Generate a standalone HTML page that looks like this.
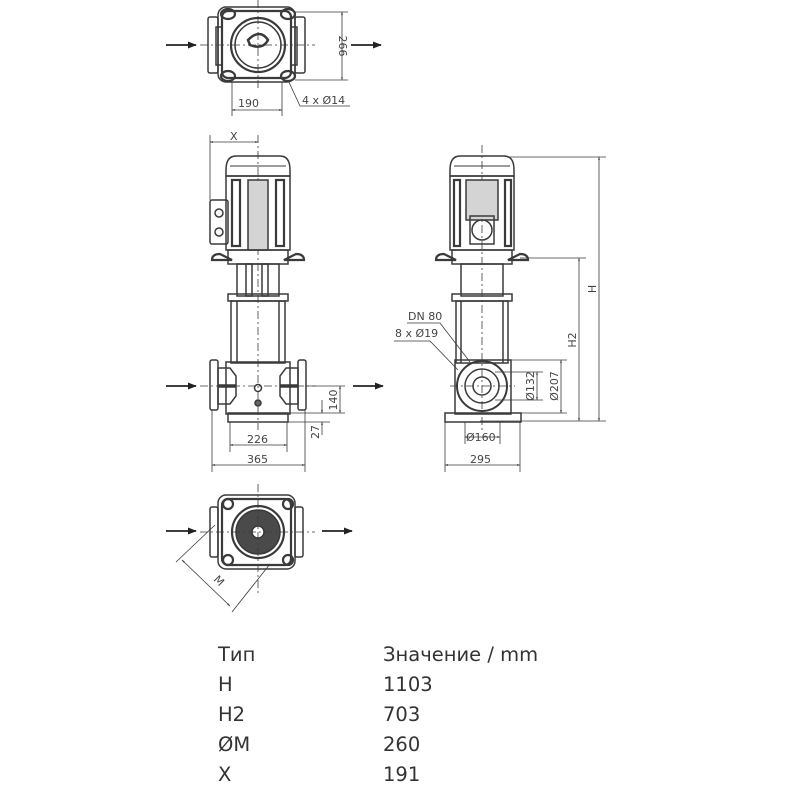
<!DOCTYPE html>
<html><head><meta charset="utf-8"><style>
html,body{margin:0;padding:0;background:#fff;width:800px;height:800px;overflow:hidden}
svg{position:absolute;left:0;top:0}
.t{font-family:"DejaVu Sans","Liberation Sans",sans-serif;fill:#333;font-size:19.5px}
.d{font-family:"DejaVu Sans","Liberation Sans",sans-serif;fill:#444;font-size:11px}
</style></head><body>
<svg width="800" height="800" viewBox="0 0 800 800" xmlns="http://www.w3.org/2000/svg">
<defs>
<marker id="a" viewBox="0 0 10 10" refX="9" refY="5" markerWidth="5" markerHeight="5" orient="auto-start-reverse"><path d="M0,1 L10,5 L0,9z" fill="#222"/></marker>
<marker id="s" viewBox="0 0 10 10" refX="9" refY="5" markerWidth="4" markerHeight="4" orient="auto-start-reverse"><path d="M0,2 L10,5 L0,8z" fill="#444"/></marker>
</defs>
<g fill="none" stroke="#3a3a3a" stroke-width="1.5">
<!-- TOP VIEW -->
<rect x="218" y="7" width="77" height="75" rx="8"/>
<rect x="222" y="11" width="69" height="67" rx="6" stroke-width="2.2"/>
<rect x="208" y="17" width="10" height="56" rx="2"/>
<rect x="295" y="17" width="10" height="56" rx="2"/>
<rect x="216" y="27" width="6" height="38"/><rect x="291" y="27" width="6" height="38"/>
<circle cx="258" cy="45" r="27" stroke-width="2.2"/>
<circle cx="258" cy="45" r="23"/>
<path d="M248,40 q12,-12 20,0 q-5,10 -18,5z" stroke-width="2.5"/>
<ellipse cx="228" cy="14" rx="7" ry="5" stroke-width="2.2"/><ellipse cx="288" cy="14" rx="7" ry="5" stroke-width="2.2"/>
<ellipse cx="228" cy="76" rx="7" ry="5" stroke-width="2.2"/><ellipse cx="288" cy="76" rx="7" ry="5" stroke-width="2.2"/>
<line x1="258" y1="0" x2="258" y2="90" stroke-dasharray="8 3 2 3" stroke-width="0.8"/>
<line x1="200" y1="45" x2="315" y2="45" stroke-dasharray="8 3 2 3" stroke-width="0.8"/>
<line x1="295" y1="12" x2="348" y2="12" stroke-width="0.8"/><line x1="295" y1="80" x2="348" y2="80" stroke-width="0.8"/>
<line x1="342" y1="12" x2="342" y2="80" stroke-width="0.8" marker-start="url(#s)" marker-end="url(#s)"/>
<line x1="232" y1="82" x2="232" y2="116" stroke-width="0.8"/><line x1="282" y1="82" x2="282" y2="116" stroke-width="0.8"/>
<line x1="232" y1="110" x2="282" y2="110" stroke-width="0.8" marker-start="url(#s)" marker-end="url(#s)"/>
<polyline points="288,80 300,106 350,106" stroke-width="0.8"/>

<!-- LEFT FRONT VIEW -->
<line x1="258" y1="135" x2="258" y2="430" stroke-dasharray="8 3 2 3" stroke-width="0.8"/>
<path d="M226,170 q0,-14 10,-14 h44 q10,0 10,14 v6 h-64z"/>
<path d="M230,166 h56" stroke-width="1"/>
<rect x="226" y="176" width="64" height="74"/>
<rect x="232" y="180" width="8" height="66" stroke-width="2.2"/><rect x="276" y="180" width="8" height="66" stroke-width="2.2"/>
<rect x="248" y="180" width="20" height="70" fill="#d4d4d4"/>
<rect x="210" y="200" width="18" height="44" rx="2"/>
<circle cx="219" cy="213" r="4"/><circle cx="219" cy="232" r="4"/>
<path d="M220,254 q-8,0 -8,6 h20z M296,254 q8,0 8,6 h-20z" stroke-width="2.2"/>
<rect x="228" y="250" width="60" height="14"/>
<rect x="237" y="264" width="42" height="32"/>
<rect x="246" y="264" width="6" height="32"/><rect x="262" y="264" width="6" height="32"/>
<rect x="228" y="294" width="60" height="7"/>
<rect x="231" y="301" width="54" height="62"/>
<line x1="237" y1="301" x2="237" y2="363"/><line x1="279" y1="301" x2="279" y2="363"/>
<rect x="226" y="362" width="64" height="52"/>
<rect x="210" y="360" width="8" height="50" rx="2"/><rect x="298" y="360" width="8" height="50" rx="2"/>
<path d="M218,368 h12 l6,8 v20 l-6,8 h-12z M298,368 h-12 l-6,8 v20 l6,8 h12z"/>
<line x1="218" y1="386" x2="236" y2="386" stroke-width="3.5"/><line x1="280" y1="386" x2="298" y2="386" stroke-width="3.5"/>
<circle cx="258" cy="388" r="3.5"/><circle cx="258" cy="403" r="3" fill="#666"/>
<rect x="228" y="413" width="60" height="9"/>
<line x1="200" y1="386" x2="316" y2="386" stroke-dasharray="8 3 2 3" stroke-width="0.8"/>
<line x1="210" y1="135" x2="210" y2="200" stroke-width="0.8"/>
<line x1="210" y1="142" x2="258" y2="142" stroke-width="0.8" marker-start="url(#s)" marker-end="url(#s)"/>
<line x1="230" y1="422" x2="230" y2="452" stroke-width="0.8"/><line x1="287" y1="422" x2="287" y2="452" stroke-width="0.8"/>
<line x1="230" y1="445" x2="287" y2="445" stroke-width="0.8" marker-start="url(#s)" marker-end="url(#s)"/>
<line x1="212" y1="410" x2="212" y2="472" stroke-width="0.8"/><line x1="305" y1="410" x2="305" y2="472" stroke-width="0.8"/>
<line x1="212" y1="465" x2="305" y2="465" stroke-width="0.8" marker-start="url(#s)" marker-end="url(#s)"/>
<line x1="305" y1="386" x2="345" y2="386" stroke-width="0.8"/><line x1="288" y1="413" x2="345" y2="413" stroke-width="0.8"/><line x1="288" y1="422" x2="330" y2="422" stroke-width="0.8"/>
<line x1="340" y1="386" x2="340" y2="413" stroke-width="0.8" marker-start="url(#s)" marker-end="url(#s)"/>
<line x1="322" y1="400" x2="322" y2="413" stroke-width="0.8" marker-end="url(#s)"/>
<line x1="322" y1="435" x2="322" y2="422" stroke-width="0.8" marker-end="url(#s)"/>

<!-- RIGHT SIDE VIEW -->
<line x1="482" y1="145" x2="482" y2="430" stroke-dasharray="8 3 2 3" stroke-width="0.8"/>
<path d="M450,170 q0,-14 10,-14 h44 q10,0 10,14 v6 h-64z"/>
<path d="M454,166 h56" stroke-width="1"/>
<rect x="450" y="176" width="64" height="74"/>
<rect x="454" y="180" width="6" height="66" stroke-width="2.2"/><rect x="505" y="180" width="6" height="66" stroke-width="2.2"/>
<rect x="466" y="180" width="32" height="40" fill="#d4d4d4"/>
<rect x="470" y="216" width="24" height="28"/><circle cx="482" cy="230" r="10"/>
<path d="M444,254 q-8,0 -8,6 h20z M520,254 q8,0 8,6 h-20z" stroke-width="2.2"/>
<rect x="452" y="250" width="60" height="14"/>
<rect x="461" y="264" width="42" height="32"/>
<rect x="452" y="294" width="60" height="7"/>
<rect x="456" y="301" width="52" height="62"/>
<line x1="461" y1="301" x2="461" y2="363"/><line x1="503" y1="301" x2="503" y2="363"/>
<rect x="455" y="360" width="56" height="54"/>
<circle cx="482" cy="386" r="25" stroke-width="2"/>
<circle cx="482" cy="386" r="17"/>
<circle cx="482" cy="386" r="9"/>
<rect x="445" y="413" width="76" height="9"/>
<line x1="450" y1="386" x2="515" y2="386" stroke-dasharray="8 3 2 3" stroke-width="0.8"/>
<polyline points="407,323 440,323 470,362" stroke-width="0.8"/>
<polyline points="394,341 430,341 458,370" stroke-width="0.8"/>
<line x1="510" y1="157" x2="606" y2="157" stroke-width="0.8"/>
<line x1="520" y1="258" x2="586" y2="258" stroke-width="0.8"/>
<line x1="480" y1="421" x2="606" y2="421" stroke-width="0.8"/>
<line x1="599" y1="157" x2="599" y2="421" stroke-width="0.8" marker-start="url(#s)" marker-end="url(#s)"/>
<line x1="579" y1="258" x2="579" y2="421" stroke-width="0.8" marker-start="url(#s)" marker-end="url(#s)"/>
<line x1="508" y1="360" x2="567" y2="360" stroke-width="0.8"/><line x1="508" y1="413" x2="567" y2="413" stroke-width="0.8"/>
<line x1="561" y1="360" x2="561" y2="413" stroke-width="0.8" marker-start="url(#s)" marker-end="url(#s)"/>
<line x1="495" y1="372" x2="543" y2="372" stroke-width="0.8"/><line x1="495" y1="400" x2="543" y2="400" stroke-width="0.8"/>
<line x1="537" y1="372" x2="537" y2="400" stroke-width="0.8" marker-start="url(#s)" marker-end="url(#s)"/>
<line x1="465" y1="422" x2="465" y2="444" stroke-width="0.8"/><line x1="500" y1="422" x2="500" y2="444" stroke-width="0.8"/>
<line x1="465" y1="437" x2="500" y2="437" stroke-width="0.8" marker-start="url(#s)" marker-end="url(#s)"/>
<line x1="445" y1="422" x2="445" y2="472" stroke-width="0.8"/><line x1="520" y1="422" x2="520" y2="472" stroke-width="0.8"/>
<line x1="445" y1="465" x2="520" y2="465" stroke-width="0.8" marker-start="url(#s)" marker-end="url(#s)"/>

<!-- BOTTOM VIEW -->
<rect x="218" y="495" width="77" height="74" rx="8"/>
<rect x="222" y="499" width="69" height="66" rx="6" stroke-width="2.2"/>
<rect x="210" y="507" width="8" height="50" rx="2"/><rect x="295" y="507" width="8" height="50" rx="2"/>
<circle cx="258" cy="532" r="26" stroke-width="2.2"/>
<circle cx="258" cy="532" r="22" fill="#4a4a4a"/>
<circle cx="258" cy="532" r="6" fill="#fff"/>
<circle cx="228" cy="504" r="5" stroke-width="2.2"/><circle cx="288" cy="504" r="5" stroke-width="2.2"/>
<circle cx="228" cy="560" r="5" stroke-width="2.2"/><circle cx="288" cy="560" r="5" stroke-width="2.2"/>
<line x1="258" y1="484" x2="258" y2="595" stroke-dasharray="8 3 2 3" stroke-width="0.8"/>
<line x1="200" y1="532" x2="315" y2="532" stroke-dasharray="8 3 2 3" stroke-width="0.8"/>
<line x1="215" y1="525" x2="176" y2="562" stroke-width="0.8"/>
<line x1="270" y1="564" x2="232" y2="612" stroke-width="0.8"/>
<line x1="182" y1="560" x2="230" y2="606" stroke-width="0.8" marker-start="url(#s)" marker-end="url(#s)"/>
</g>
<g stroke="#222" stroke-width="1.8" marker-end="url(#a)">
<line x1="166" y1="45" x2="196" y2="45"/><line x1="351" y1="45" x2="381" y2="45"/>
<line x1="166" y1="386" x2="196" y2="386"/><line x1="353" y1="386" x2="383" y2="386"/>
<line x1="166" y1="531" x2="196" y2="531"/><line x1="322" y1="531" x2="352" y2="531"/>
</g>
<text class="d" x="238" y="107">190</text>
<text class="d" x="302" y="104" font-size="10">4 x Ø14</text>
<text class="d" transform="translate(339,46) rotate(90)" text-anchor="middle">266</text>
<text class="d" x="230" y="140">X</text>
<text class="d" x="247" y="443">226</text>
<text class="d" x="247" y="463">365</text>
<text class="d" transform="translate(337,400) rotate(-90)" text-anchor="middle">140</text>
<text class="d" transform="translate(319,432) rotate(-90)" text-anchor="middle">27</text>
<text class="d" x="408" y="320" font-size="10">DN 80</text>
<text class="d" x="395" y="337" font-size="10">8 x Ø19</text>
<text class="d" transform="translate(534,386) rotate(-90)" text-anchor="middle" font-size="10">Ø132</text>
<text class="d" transform="translate(558,386) rotate(-90)" text-anchor="middle" font-size="10">Ø207</text>
<text class="d" transform="translate(576,340) rotate(-90)" text-anchor="middle" font-size="10">H2</text>
<text class="d" transform="translate(596,289) rotate(-90)" text-anchor="middle" font-size="10">H</text>
<text class="d" x="466" y="441">Ø160</text>
<text class="d" x="470" y="463">295</text>
<text class="d" transform="translate(213,580) rotate(45)" font-size="9">M</text>
<text class="t" x="218" y="661">Тип</text><text class="t" x="383" y="661">Значение / mm</text>
<text class="t" x="218" y="691">H</text><text class="t" x="383" y="691">1103</text>
<text class="t" x="218" y="721">H2</text><text class="t" x="383" y="721">703</text>
<text class="t" x="218" y="751">ØM</text><text class="t" x="383" y="751">260</text>
<text class="t" x="218" y="781">X</text><text class="t" x="383" y="781">191</text>
</svg>
</body></html>
